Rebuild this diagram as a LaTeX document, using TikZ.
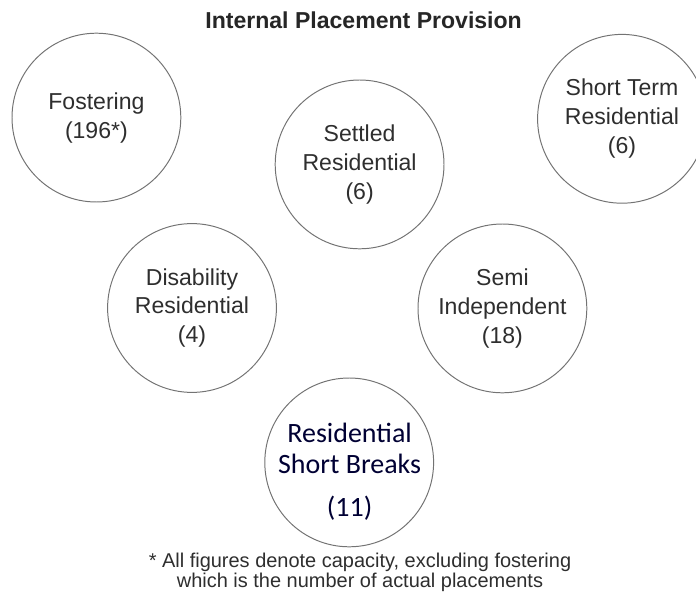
\documentclass[tikz,border=0pt]{standalone}
\usepackage{fontspec}
\setmainfont{Liberation Sans}
\newfontfamily\calibri{Carlito}

\begin{document}
\begin{tikzpicture}[provision/.style = {circle,draw=black!55,line width=0.7pt,minimum size=4.22cm,inner sep=0pt,align=center,text=black!82,font=\fontsize{16.4}{20.6}\selectfont},]

		\useasboundingbox (0,0) rectangle (17.4,14.8);

		\node[font=\fontsize{16.4}{19}\selectfont,text=black!85] (title) at (9.09,14.3) {{\bf Internal Placement Provision}};

		\node[provision] (F) at (2.41,11.86) {Fostering\\(196*)};
		\node[provision] (S) at (8.99,10.69) {Settled\\Residential\\(6)};
		\node[provision] (T) at (15.55,11.83) {Short Term\\Residential\\(6)};
		\node[provision] (D) at (4.8,7.1) {Disability\\Residential\\(4)};
		\node[provision] (I) at (12.56,7.09) {Semi\\Independent\\(18)};
		\node[provision] (B) at (8.73,3.24) {};
		\node[align=center,text=black!80!blue,font=\calibri\fontsize{19.9}{22}\selectfont] (BT) at (8.74,3.0) {Residential\\Short Breaks\\[0.3cm](11)};

		\node[align=center,text=black!82,font=\fontsize{14.2}{13}\selectfont] (note) at (9.0,0.5) {* All figures denote capacity, excluding fostering\\which is the number of actual placements};

	\end{tikzpicture}
\end{document}
